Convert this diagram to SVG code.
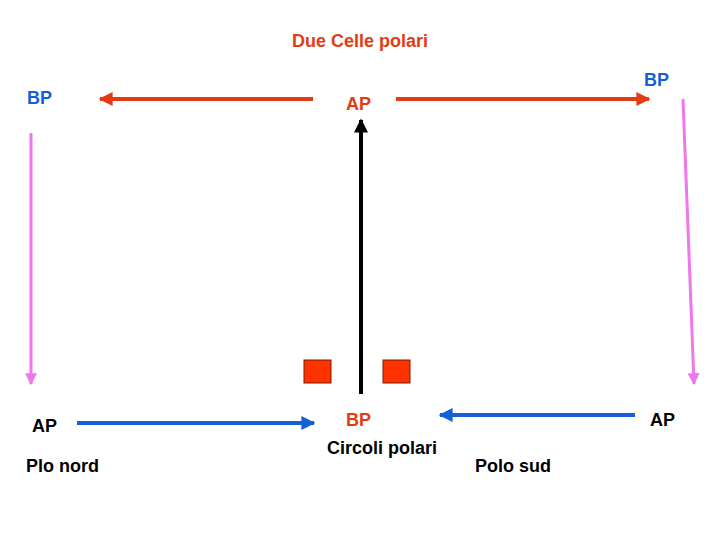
<svg xmlns="http://www.w3.org/2000/svg" width="720" height="540" viewBox="0 0 720 540">
<style>
text{font-family:"Liberation Sans",Arial,sans-serif;font-weight:bold;font-size:18px}
.red{fill:#e43c12}.blue{fill:#1560d8}.blk{fill:#000}
.box{fill:#ff3300;stroke:#7a1a00;stroke-width:1}
</style>
<defs>
<marker id="mr" viewBox="0 0 10 10" refX="9" refY="5" markerWidth="3.5" markerHeight="3.5" orient="auto"><path d="M0,0L10,5L0,10z" fill="#e43c12"/></marker>
<marker id="mb" viewBox="0 0 10 10" refX="9" refY="5" markerWidth="3.5" markerHeight="3.5" orient="auto"><path d="M0,0L10,5L0,10z" fill="#1560d8"/></marker>
<marker id="mk" viewBox="0 0 10 10" refX="9" refY="5" markerWidth="4" markerHeight="3.5" orient="auto"><path d="M0,0L10,5L0,10z" fill="#000"/></marker>
<marker id="mp" viewBox="0 0 10 10" refX="9" refY="5" markerWidth="4" markerHeight="4" orient="auto"><path d="M0,0L10,5L0,10z" fill="#ee77ee"/></marker>
</defs>
<g id="connectors" fill="none">
<line x1="313" y1="99" x2="100" y2="99" stroke="#e43c12" stroke-width="4" marker-end="url(#mr)"/>
<line x1="396" y1="99" x2="649" y2="99" stroke="#e43c12" stroke-width="4" marker-end="url(#mr)"/>
<line x1="361" y1="394" x2="361" y2="120" stroke="#000" stroke-width="4" marker-end="url(#mk)"/>
<line x1="31" y1="133" x2="31" y2="384" stroke="#ee77ee" stroke-width="3" marker-end="url(#mp)"/>
<line x1="683" y1="99" x2="694" y2="384" stroke="#ee77ee" stroke-width="3" marker-end="url(#mp)"/>
<line x1="77" y1="423" x2="314" y2="423" stroke="#1560d8" stroke-width="4" marker-end="url(#mb)"/>
<line x1="635" y1="415" x2="440" y2="415" stroke="#1560d8" stroke-width="4" marker-end="url(#mb)"/>
</g>
<g id="title"><text x="360" y="47" text-anchor="middle" class="red">Due Celle polari</text></g>
<g id="bp-left"><text x="27" y="104" class="blue">BP</text></g>
<g id="bp-right"><text x="644" y="86" class="blue">BP</text></g>
<g id="ap-top"><text x="346" y="110" class="red">AP</text></g>
<g id="box-left"><rect x="304" y="360" width="27" height="23" class="box"/></g>
<g id="box-right"><rect x="383" y="360" width="27" height="23" class="box"/></g>
<g id="ap-left"><text x="32" y="432" class="blk">AP</text></g>
<g id="bp-bottom"><text x="346" y="426" class="red">BP</text></g>
<g id="ap-right"><text x="650" y="426" class="blk">AP</text></g>
<g id="circoli"><text x="327" y="454" class="blk">Circoli polari</text></g>
<g id="plo-nord"><text x="26" y="472" class="blk">Plo nord</text></g>
<g id="polo-sud"><text x="475" y="472" class="blk">Polo sud</text></g>
</svg>
